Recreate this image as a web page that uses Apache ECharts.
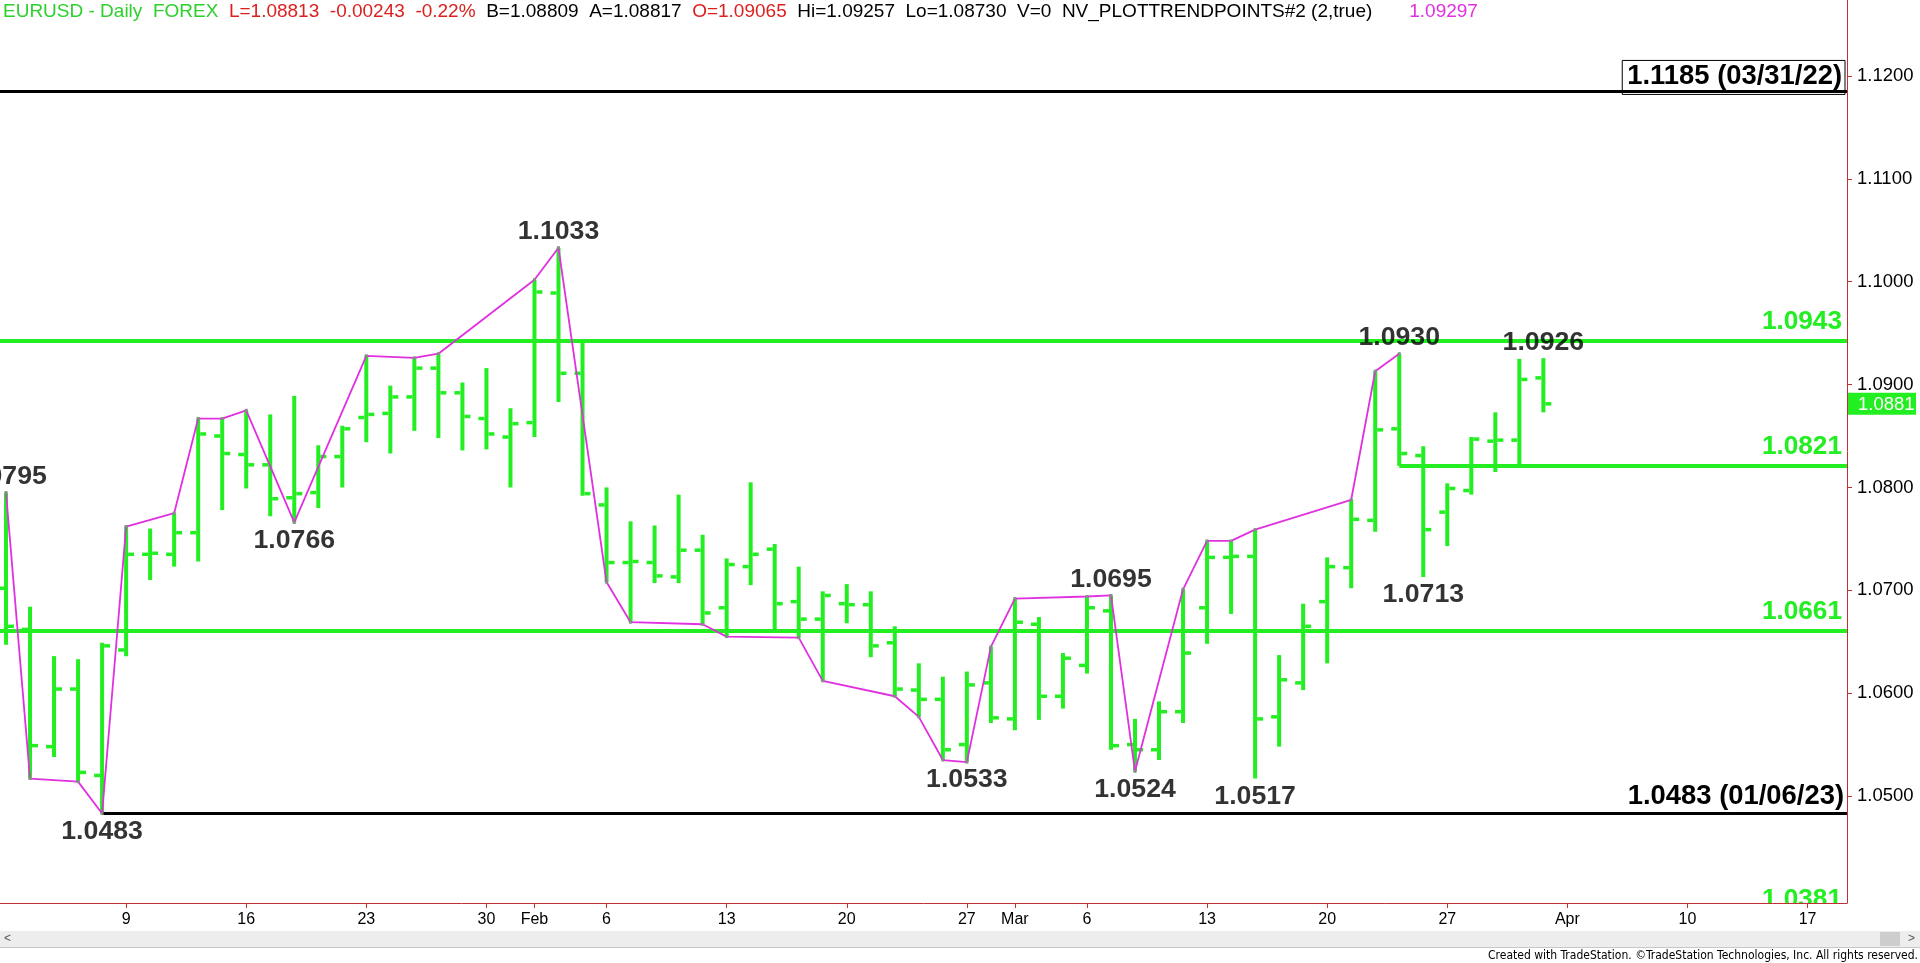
<!DOCTYPE html>
<html><head><meta charset="utf-8">
<script src="https://cdn.jsdelivr.net/npm/echarts@6/dist/echarts.min.js"></script>
<style>html,body{margin:0;padding:0;background:#fff;overflow:hidden}#c{width:1920px;height:963px}</style>
</head><body><div id="c"></div>
<script>
// ---------- DATA (trading-day index 0 = Jan 2, 2023) ----------
const opens  = [1.0702,1.0662,1.0548,1.0604,1.0520,1.0642,1.0735,1.0735,1.0756,1.0850,
                1.0832,1.0822,1.0790,1.0795,1.0830,1.0868,1.0872,1.0888,1.0916,1.0892,
                1.0867,1.0849,1.0863,1.0989,1.0911,1.0783,1.0727,1.0727,1.0713,1.0739,
                1.0683,1.0723,1.0740,1.0689,1.0672,1.0687,1.0686,1.0649,1.0603,1.0594,
                1.0550,1.0610,1.0575,1.0667,1.0597,1.0627,1.0680,1.0550,1.0545,1.0582,
                1.0683,1.0732,1.0733,1.0577,1.0610,1.0689,1.0722,1.0768,1.0857,1.0831,
                1.0776,1.0797,1.0845,1.0846,1.09065];
const highs  = [1.0795,1.0684,1.0636,1.0633,1.0649,1.0762,1.0760,1.0775,1.0867,1.0867,
                1.0875,1.0871,1.0889,1.0841,1.0860,1.0928,1.0899,1.0926,1.0930,1.0902,
                1.0916,1.0877,1.1002,1.1033,1.0942,1.0800,1.0767,1.0763,1.0793,1.0754,
                1.0731,1.0805,1.0745,1.0723,1.0699,1.0706,1.0699,1.0665,1.0629,1.0616,
                1.0621,1.0645,1.0692,1.0674,1.0639,1.0694,1.0695,1.0575,1.0592,1.0701,
                1.0748,1.0748,1.0759,1.0637,1.0687,1.0732,1.0788,1.0913,1.0930,1.0840,
                1.0804,1.0849,1.0873,1.0925,1.09257];
const lows   = [1.0647,1.0517,1.0538,1.0514,1.0483,1.0636,1.0710,1.0723,1.0728,1.0778,
                1.0799,1.0772,1.0766,1.0780,1.0800,1.0844,1.0833,1.0855,1.0848,1.0836,
                1.0837,1.0800,1.0849,1.0883,1.0792,1.0708,1.0669,1.0707,1.0707,1.0667,
                1.0655,1.0705,1.0659,1.0654,1.0612,1.0668,1.0635,1.0597,1.0577,1.0535,
                1.0533,1.0571,1.0564,1.0574,1.0585,1.0619,1.0545,1.0524,1.0535,1.0571,
                1.0648,1.0677,1.0517,1.0548,1.0603,1.0629,1.0702,1.0757,1.0821,1.0713,
                1.0743,1.0793,1.0815,1.0822,1.08730];
const closes = [1.0665,1.0549,1.0604,1.0523,1.0646,1.0735,1.0736,1.0756,1.0852,1.0833,
                1.0822,1.0789,1.0794,1.0830,1.0857,1.0871,1.0888,1.0916,1.0892,1.0869,
                1.0852,1.0862,1.0990,1.0911,1.0794,1.0727,1.0728,1.0714,1.0739,1.0678,
                1.0725,1.0735,1.0687,1.0672,1.0695,1.0686,1.0646,1.0604,1.0594,1.0545,
                1.0608,1.0576,1.0669,1.0597,1.0634,1.0683,1.0549,1.0545,1.0582,1.0639,
                1.0732,1.0733,1.0575,1.0613,1.0665,1.0723,1.0769,1.0856,1.0833,1.0759,
                1.0799,1.0847,1.0846,1.0905,1.08813];

// NV_PLOTTRENDPOINTS pivots: bar index and whether the high (H) or low (L) is used
const trendIdx  = [0,1,3,4,5,7,8,9,10,12,15,17,18,22,23,25,26,29,30,33,34,37,38,39,40,41,42,45,46,47,49,50,51,52,56,57,58];
const trendSide = ['H','L','L','L','H','H','H','H','H','L','H','H','H','H','H','L','L','L','L','L','L','L','L','L','L','H','H','H','H','L','H','H','H','H','H','H','H'];

// labelled swing points
const swingIdx  = [0,4,12,23,40,46,47,52,58,59,64];
const swingSide = ['H','L','L','H','L','H','L','L','H','L','H'];

// horizontal levels
const levelValues   = [1.1185, 1.0943, 1.0821, 1.0661, 1.0483, 1.0381];
const levelStartIdx = [null,   null,   58,     null,   4,      null];
const levelLabels   = ['1.1185 (03/31/22)', '1.0943', '1.0821', '1.0661', '1.0483 (01/06/23)', '1.0381'];

const yTickValues = [1.05, 1.06, 1.07, 1.08, 1.09, 1.10, 1.11, 1.12];
const xTickIdx    = [5, 10, 15, 20, 22, 25, 30, 35, 40, 42, 45, 50, 55, 60, 65, 70, 75];
const xTickLabels = ['9','16','23','30','Feb','6','13','20','27','Mar','6','13','20','27','Apr','10','17'];

const headerParts = [
  ['g', 'EURUSD - Daily  FOREX'], ['r', 'L=1.08813  -0.00243  -0.22%'],
  ['k', 'B=1.08809  A=1.08817'], ['r', 'O=1.09065'],
  ['k', 'Hi=1.09257  Lo=1.08730  V=0  NV_PLOTTRENDPOINTS#2 (2,true)'], ['m', '     1.09297']
];
const footerText = 'Created with TradeStation. \u00A9TradeStation Technologies, Inc. All rights reserved.';

// ---------- CHART ----------
const GREEN = '#22ee22', MAGENTA = '#e030e0', AXIS = '#c03030';
const FONT = '"Liberation Sans", Arial, sans-serif';
const xMin = -0.25, xMax = 76.64, yMin = 1.0396, yMax = 1.127389;
const lastIdx = closes.length - 1;

const chart = echarts.init(document.getElementById('c'), null, {renderer: 'canvas'});

const ohlc = opens.map((o, i) => [i, o, highs[i], lows[i], closes[i]]);
const trendData = trendIdx.map((i, k) => [i, trendSide[k] === 'H' ? highs[i] : lows[i]]);
const swingData = swingIdx.map((i, k) => {
  const hi = swingSide[k] === 'H';
  return {value: [i, hi ? highs[i] : lows[i]], label: {position: hi ? 'top' : 'bottom', distance: hi ? 2 : 4}};
});

// levels inside the visible price range are drawn as mark lines
const inRange = v => v >= yMin && v <= yMax;
const levelLines = [];
levelValues.forEach((v, k) => {
  if (!inRange(v)) return;
  const dated = levelLabels[k].indexOf('(') >= 0;
  const boxed = v === Math.max.apply(null, levelValues);
  const color = dated ? '#000' : GREEN;
  const label = {
    show: true, position: 'insideEndTop', formatter: levelLabels[k],
    color: color, fontFamily: FONT, fontWeight: 'bold', fontSize: dated ? 27.4 : 26.2,
    distance: dated ? [3, 4] : [5, 6]
  };
  if (boxed) Object.assign(label, {borderColor: '#000', borderWidth: 1, padding: [3, 3, 4, 5], distance: [2, -3]});
  levelLines.push([
    {coord: [levelStartIdx[k] === null ? xMin : levelStartIdx[k], v], lineStyle: {color: color, width: dated ? 3 : 4, type: 'solid'}, label: label},
    {coord: [xMax, v]}
  ]);
});

const headerText = headerParts.map(p => '{' + p[0] + '|' + p[1] + '}').join('  ');

chart.setOption({
  animation: false,
  backgroundColor: '#fff',
  grid: {left: 0, right: 73, top: 0, bottom: 60, containLabel: false, outerBoundsMode: 'none'},
  xAxis: {
    type: 'value', min: xMin, max: xMax, z: 60,
    axisLine: {show: true, onZero: false, lineStyle: {color: AXIS, width: 1}},
    axisTick: {show: true, customValues: xTickIdx, length: 5, lineStyle: {color: AXIS}},
    axisLabel: {show: true, customValues: xTickIdx, margin: 9, color: '#000', fontFamily: FONT, fontSize: 16,
                formatter: v => xTickLabels[xTickIdx.indexOf(v)]},
    splitLine: {show: false}
  },
  yAxis: {
    type: 'value', position: 'right', min: yMin, max: yMax, scale: true, z: 60,
    axisLine: {show: true, onZero: false, lineStyle: {color: AXIS, width: 1}},
    axisTick: {show: true, customValues: yTickValues, length: 5, lineStyle: {color: AXIS}},
    axisLabel: {show: true, customValues: yTickValues, margin: 10, color: '#000', fontFamily: FONT, fontSize: 18.5,
                formatter: v => v.toFixed(4)},
    splitLine: {show: false}
  },
  series: [
    {
      type: 'line', data: [], silent: true, z: 3,
      markLine: {silent: true, symbol: ['none', 'none'], animation: false, data: levelLines}
    },
    {
      type: 'custom', data: ohlc, z: 4, silent: true,
      encode: {x: 0, y: [1, 2, 3, 4]},
      renderItem: function (params, api) {
        const i = api.value(0);
        const pO = api.coord([i, api.value(1)]);
        const pH = api.coord([i, api.value(2)]);
        const pL = api.coord([i, api.value(3)]);
        const pC = api.coord([i, api.value(4)]);
        const x = pH[0], w = 4, t = 6, th = 3.5;
        return {type: 'group', children: [
          {type: 'rect', shape: {x: x - w / 2, y: pH[1], width: w, height: pL[1] - pH[1]}, style: {fill: GREEN}},
          {type: 'rect', shape: {x: x - w / 2 - t, y: pO[1] - th / 2, width: t, height: th}, style: {fill: GREEN}},
          {type: 'rect', shape: {x: x + w / 2, y: pC[1] - th / 2, width: t, height: th}, style: {fill: GREEN}}
        ]};
      }
    },
    {
      type: 'line', data: trendData, z: 5, silent: true,
      symbol: 'rect', symbolSize: 3, showSymbol: true,
      itemStyle: {color: '#8a8a8a'},
      lineStyle: {color: MAGENTA, width: 1.8}
    },
    {
      type: 'scatter', data: swingData, z: 6, silent: true, clip: false,
      symbolSize: 1, itemStyle: {color: 'rgba(0,0,0,0)'},
      label: {show: true, color: '#000', fontFamily: FONT, fontWeight: 'bold', fontSize: 26.7,
              formatter: p => p.value[1].toFixed(4)}
    }
  ],
  graphic: [
    {id: 'cover', type: 'rect', z: 50, silent: true, shape: {x: 0, y: 904, width: 1920, height: 59}, style: {fill: '#fff'}},
    {id: 'sb', type: 'rect', z: 70, silent: true, shape: {x: 0, y: 931, width: 1920, height: 16}, style: {fill: '#ededed'}},
    {id: 'sbl', type: 'rect', z: 70, silent: true, shape: {x: 0, y: 947, width: 1920, height: 1}, style: {fill: '#c8c8c8'}},
    {id: 'sbt', type: 'rect', z: 71, silent: true, shape: {x: 1880, y: 932, width: 20, height: 14}, style: {fill: '#cdcdcd'}},
    {id: 'sbL', type: 'text', z: 72, silent: true, x: 4, y: 939, style: {text: '<', fill: '#555', font: '12px ' + FONT, verticalAlign: 'middle'}},
    {id: 'sbR', type: 'text', z: 72, silent: true, x: 1915, y: 939, style: {text: '>', fill: '#555', font: '12px ' + FONT, align: 'right', verticalAlign: 'middle'}},
    {id: 'foot', type: 'text', z: 72, silent: true, x: 1918, y: 956,
     style: {text: footerText, fill: '#000', font: '12px "Liberation Sans Narrow", "DejaVu Sans Condensed", Arial, sans-serif', align: 'right', verticalAlign: 'middle'}},
    {id: 'head', type: 'text', z: 100, silent: true, x: 3, y: 2,
     style: {text: headerText, font: '19px ' + FONT, fill: '#000', verticalAlign: 'top',
             rich: {
               g: {fill: '#2ed02e', font: '19px ' + FONT},
               r: {fill: '#dc2020', font: '19px ' + FONT},
               k: {fill: '#000', font: '19px ' + FONT},
               m: {fill: '#e030e0', font: '19px ' + FONT}
             }}}
  ]
});

// elements placed through the chart's own scales: last-price tag and off-range level labels
const extra = [];
const pTag = chart.convertToPixel({gridIndex: 0}, [xMax, closes[lastIdx]]);
extra.push({id: 'tagR', type: 'rect', z: 80, silent: true, shape: {x: pTag[0] + 1, y: pTag[1] - 11, width: 68, height: 22}, style: {fill: GREEN}});
extra.push({id: 'tagT', type: 'text', z: 81, silent: true, x: pTag[0] + 11, y: pTag[1] + 1,
            style: {text: closes[lastIdx].toFixed(4), fill: '#fff', font: '18.5px ' + FONT, verticalAlign: 'middle'}});
levelValues.forEach((v, k) => {
  if (inRange(v)) return;
  const p = chart.convertToPixel({gridIndex: 0}, [xMax, v]);
  extra.push({id: 'lvl' + k, type: 'text', z: 40, silent: true, x: p[0] - 5, y: p[1] - 19,
              style: {text: levelLabels[k], fill: GREEN, font: 'bold 26.2px ' + FONT, align: 'right', verticalAlign: 'middle'}});
});
chart.setOption({graphic: extra});
</script>
</body></html>
